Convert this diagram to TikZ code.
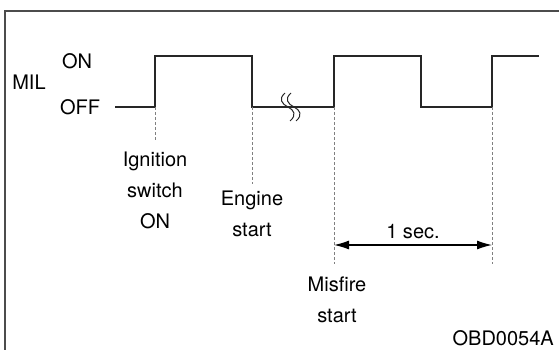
\documentclass[tikz,border=0pt]{standalone}
\usepackage{fontspec}
\setmainfont{TeX Gyre Heros}
\usetikzlibrary{arrows.meta, calc, positioning}

\begin{document}
\begin{tikzpicture}[x=1pt, y=-1pt,
        lbl/.style={font=\fontsize{20}{31}\selectfont, align=center, inner sep=0pt},
        sig/.style={line width=1.3pt, black!85},
        guide/.style={line width=1pt, gray, dash pattern=on 3pt off 2pt}]
    \useasboundingbox (0,0) rectangle (559,350);
    % frame
    \draw[line width=2pt, black!70] (5,350) -- (5,11) -- (559,11);

    % time marks
    \coordinate (t0) at (115,107);
    \coordinate (ign) at (155,107);
    \coordinate (eng) at (252,107);
    \coordinate (mis) at (334,107);
    \coordinate (low) at (421,107);
    \coordinate (sec) at (492,107);
    \coordinate (t1) at (539,56);

    % MIL signal
    \draw[sig] (t0) -- (ign) -- (155,56) -- (252,56) -- (eng) -- (mis)
        -- (334,56) -- (421,56) -- (low) -- (sec) -- (492,56) -- (t1);
    % break
    \foreach \dx in {0,6} {
        \draw[line width=1pt, black!85, xshift=\dx pt]
            (285,93) .. controls (278,99) and (282,104) .. (288,107)
            .. controls (294,110) and (297,115) .. (290,121);
    }

    % labels
    \node[lbl] (mil) at (29,82) {MIL};
    \node[lbl] (on) at (77,61) {ON};
    \node[lbl] (off) at (80,107) {OFF};
    \node[lbl] (ignlbl) at (155,190) {Ignition\\switch\\ON};
    \node[lbl] (englbl) at (252,214) {Engine\\start};
    \node[lbl] (mislbl) at (337,300) {Misfire\\start};
    \node[lbl, anchor=east] (code) at (554,338) {OBD0054A};

    % guide lines
    \draw[guide] (ign) -- (155,140);
    \draw[guide] (eng) -- (252,184);
    \draw[guide] (mis) -- (334,264);
    \draw[guide] (sec) -- (492,264);

    % one second
    \coordinate (a) at (334,245);
    \coordinate (b) at (492,245);
    \draw[line width=1.2pt, {Latex[length=15pt, width=9pt]}-{Latex[length=15pt, width=9pt]}] (a) -- (b);
    \node[lbl, above=6pt] (seclbl) at ($(a)!0.5!(b)$) {1 sec.};
\end{tikzpicture}
\end{document}
